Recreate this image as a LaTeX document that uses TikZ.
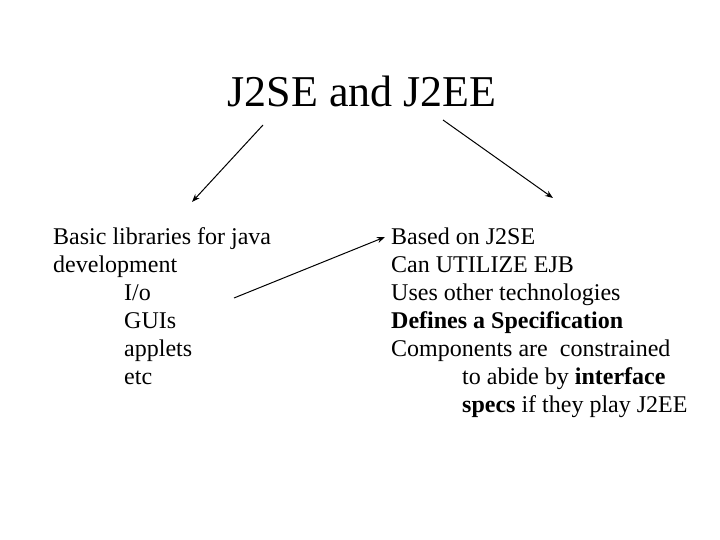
\documentclass[tikz,border=0pt]{standalone}
\usepackage{fontspec}
\setmainfont{Liberation Serif}
\usetikzlibrary{arrows.meta}
\begin{document}
\begin{tikzpicture}[x=1pt,y=-1pt,
  body/.style={anchor=base west,inner sep=0pt,font=\fontsize{24}{28}\selectfont},
  conn/.style={line width=1pt,-{Stealth[length=8pt,width=6pt]}}]
\useasboundingbox[fill=white] (0,0) rectangle (720,540);
\node[anchor=base,inner sep=0pt,font=\fontsize{44}{50}\selectfont] (title) at (362,107) {J2SE and J2EE};
% left column
\node[body] (l1) at (53,244) {Basic libraries for java};
\node[body] (l2) at (53,272) {development};
\node[body] (l3) at (124,300) {I/o};
\node[body] (l4) at (124,328) {GUIs};
\node[body] (l5) at (124,356) {applets};
\node[body] (l6) at (124,384) {etc};
% right column
\node[body] (r1) at (391,244) {Based on J2SE};
\node[body] (r2) at (391,272) {Can UTILIZE EJB};
\node[body] (r3) at (391,300) {Uses other technologies};
\node[body] (r4) at (391,328) {\textbf{Defines a Specification}};
\node[body] (r5) at (391,356) {Components are\ \ constrained};
\node[body] (r6) at (462,384) {to abide by \textbf{interface}};
\node[body] (r7) at (462,412) {\textbf{specs} if they play J2EE};
% connectors
\coordinate (a1s) at (263,125);
\coordinate (a1e) at (192,202);
\coordinate (a2s) at (443,120);
\coordinate (a2e) at (553,198);
\coordinate (a3s) at (234,298);
\coordinate (a3e) at (385,237);
\draw[conn] (a1s) -- (a1e);
\draw[conn] (a2s) -- (a2e);
\draw[conn] (a3s) -- (a3e);
\end{tikzpicture}
\end{document}
